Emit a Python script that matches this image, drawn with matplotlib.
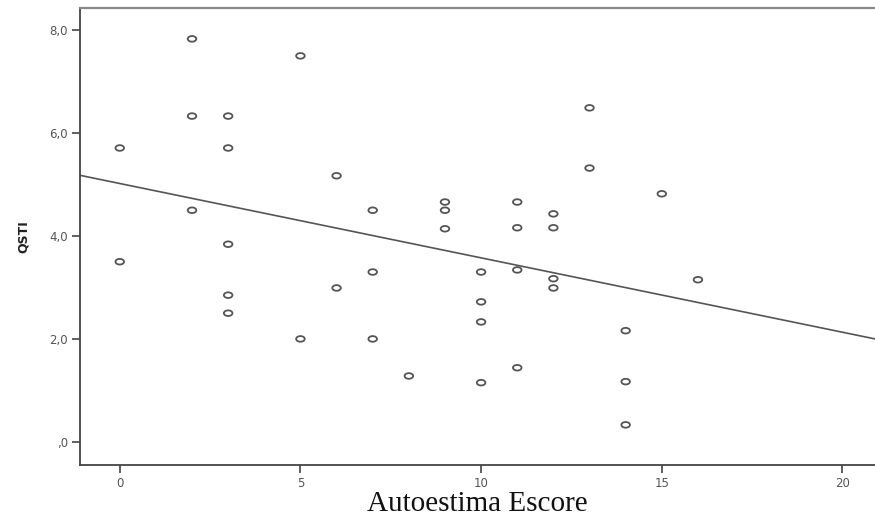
import numpy as np
import matplotlib
matplotlib.use("Agg")
import matplotlib.pyplot as plt
from matplotlib.path import Path
from matplotlib.transforms import Affine2D

# Data
autoestima = [0, 0, 2, 2, 2, 3, 3, 3, 3, 3, 5, 5, 6, 6, 7, 7, 7, 8, 9, 9, 9,
              10, 10, 10, 10, 11, 11, 11, 11, 12, 12, 12, 12, 13, 13, 14, 14, 14, 15, 16]
qsti = [5.71, 3.50, 7.83, 6.33, 4.50, 6.33, 5.71, 3.84, 2.85, 2.50, 7.50, 2.00,
        5.17, 2.99, 4.50, 3.30, 2.00, 1.28, 4.66, 4.50, 4.14,
        3.30, 2.72, 2.33, 1.15, 4.66, 4.16, 3.34, 1.44, 4.43, 4.16, 3.17, 2.99,
        6.49, 5.32, 2.16, 1.17, 0.33, 4.82, 3.15]
# Fit line (as displayed in the reference)
fit_intercept = 5.02
fit_slope = -0.1445

xticks = [0, 5, 10, 15, 20]
yticks = [0, 2, 4, 6, 8]
ytick_labels = [",0", "2,0", "4,0", "6,0", "8,0"]

fig = plt.figure(figsize=(8.75, 5.17), dpi=100)
ax = fig.add_axes([80/875, 1-465/517, 1-80/875, (465-8)/517])
ax.set_xlim(-1.1, 20.9)
ax.set_ylim(-0.45, 8.43)

ell = Path.unit_circle().transformed(Affine2D().scale(1.0, 0.66))
ax.scatter(autoestima, qsti, marker=ell, s=38, facecolors="none",
           edgecolors="#555555", linewidths=1.3, zorder=3)

xs = np.array([-1.1, 20.9])
ax.plot(xs, fit_intercept + fit_slope*xs, color="#555555", lw=1.2, zorder=2)

ax.set_xticks(xticks)
ax.set_xticklabels([str(t) for t in xticks])
ax.set_yticks(yticks)
ax.set_yticklabels(ytick_labels)
ax.tick_params(axis="both", direction="out", length=6, width=1.2, color="#444444",
               labelsize=8.5, labelcolor="#555555", pad=2.5)

for s in ["left", "bottom"]:
    ax.spines[s].set_color("#444444")
    ax.spines[s].set_linewidth(1.3)
ax.spines["top"].set_color("#888888")
ax.spines["top"].set_linewidth(1.6)
ax.spines["right"].set_visible(False)

ax.set_ylabel("QSTI", fontsize=9, fontweight="bold", color="#222222", labelpad=14)
ax.set_xlabel("Autoestima Escore", fontsize=21, family="Liberation Serif",
              color="#111111", labelpad=1)

fig.savefig("out.png", dpi=100)
